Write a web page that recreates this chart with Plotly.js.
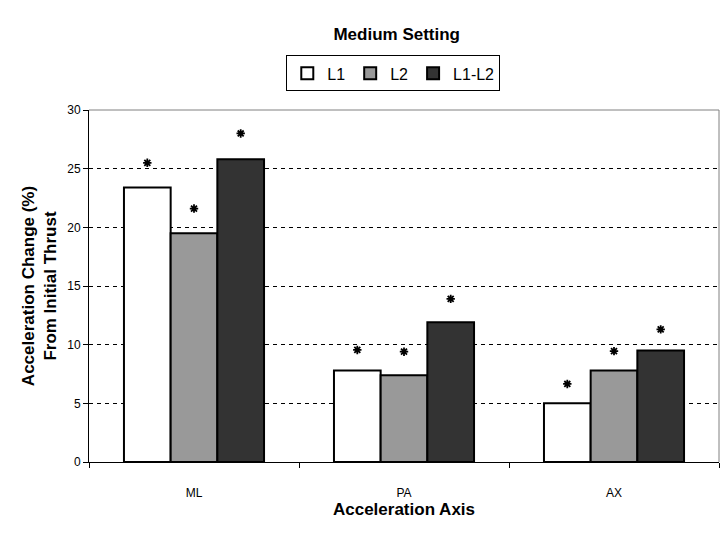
<!DOCTYPE html>
<html>
<head>
<meta charset="utf-8">
<script src="https://cdn.plot.ly/plotly-3.0.1.min.js"></script>
<style>html,body{margin:0;padding:0;background:#fff;}#chart{width:720px;height:540px;}</style>
</head>
<body>
<div id="chart"></div>
<script>
const categories = ["ML", "PA", "AX"];
const seriesNames = ["L1", "L2", "L1-L2"];
const L1 = [23.4, 7.8, 5.0];
const L2 = [19.5, 7.4, 7.8];
const L1L2 = [25.8, 11.9, 9.5];
// significance markers (*) heights
const starL1 = [25.5, 9.55, 6.65];
const starL2 = [21.6, 9.4, 9.45];
const starL1L2 = [28.0, 13.9, 11.3];
const yTicks = [0, 5, 10, 15, 20, 25, 30];

const colors = ["#ffffff", "#999999", "#333333"];
const values = [L1, L2, L1L2];
const stars = [starL1, starL2, starL1L2];

const font = "Liberation Sans, Arial, sans-serif";

const barTraces = values.map((v, i) => ({
  type: "bar",
  name: seriesNames[i],
  x: categories,
  y: v,
  offsetgroup: String(i),
  marker: {color: colors[i], line: {color: "#000", width: 2}},
  hoverinfo: "x+y+name"
}));

const starTraces = stars.map((s, i) => ({
  type: "scatter",
  mode: "markers",
  name: seriesNames[i] + " *",
  x: categories,
  y: s,
  offsetgroup: String(i),
  showlegend: false,
  cliponaxis: false,
  marker: {symbol: "asterisk-open", size: 7, color: "#000", line: {color: "#000", width: 1.8}},
  hoverinfo: "skip"
}));

const layout = {
  width: 720, height: 540,
  margin: {l: 89, r: 1, t: 110, b: 78},
  paper_bgcolor: "#fff", plot_bgcolor: "#fff",
  barmode: "group", bargap: 0.333, bargroupgap: 0,
  scattermode: "group", scattergap: 0.333,
  font: {family: font, color: "#000"},
  title: {text: "<b>Medium Setting</b>", font: {family: font, size: 17, color: "#000"},
          x: 0.551, xanchor: "center", y: 0.937, yanchor: "middle", xref: "container", yref: "container"},
  showlegend: true,
  legend: {orientation: "h", x: 0.483, xanchor: "center", y: 1.155, yanchor: "top",
           bordercolor: "#000", borderwidth: 1, bgcolor: "#fff",
           font: {family: font, size: 16, color: "#000"}, itemwidth: 30, tracegroupgap: 0},
  xaxis: {
    type: "category",
    showline: true, linecolor: "#000", linewidth: 1,
    ticks: "outside", tickson: "boundaries", ticklen: 5, tickcolor: "#000",
    tickfont: {family: font, size: 12, color: "#000"},
    ticklabelstandoff: 20,
    showgrid: false, zeroline: false,
    title: {text: "<b>Acceleration Axis</b>", font: {family: font, size: 17, color: "#000"}, standoff: 3}
  },
  yaxis: {
    range: [0, 30], tickvals: yTicks, ticktext: yTicks.map(String),
    showline: true, linecolor: "#000", linewidth: 1,
    ticks: "outside", ticklen: 5, tickcolor: "#000",
    tickfont: {family: font, size: 12, color: "#000"},
    showgrid: true, gridcolor: "#000", gridwidth: 1, griddash: "4px,4px",
    zeroline: false,
    title: {text: "<b>Acceleration Change (%)<br>From Initial Thrust</b>", font: {family: font, size: 17, color: "#000"}, standoff: 6}
  },
  shapes: [
    {type: "line", xref: "paper", yref: "paper", x0: 0, x1: 1, y0: 1, y1: 1, line: {color: "#808080", width: 1}, layer: "above"},
    {type: "line", xref: "paper", yref: "paper", x0: 1, x1: 1, y0: 0, y1: 1, line: {color: "#808080", width: 1}, layer: "above"}
  ]
};

Plotly.newPlot("chart", barTraces.concat(starTraces), layout, {displayModeBar: false, staticPlot: true});
</script>
</body>
</html>
